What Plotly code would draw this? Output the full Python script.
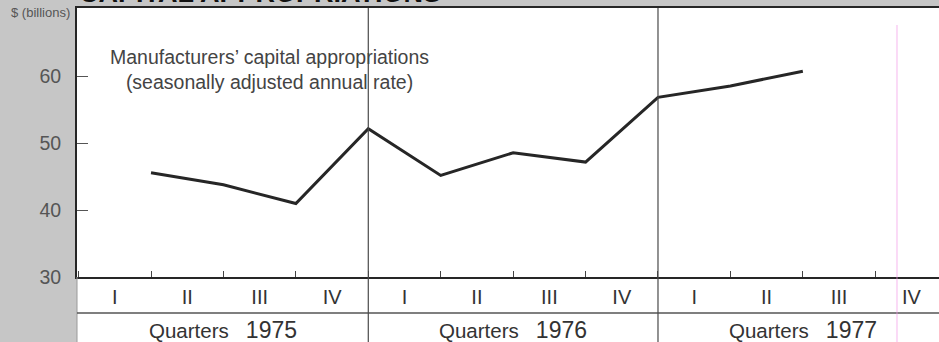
import plotly.graph_objects as go

# Manufacturers' capital appropriations, $ billions (seasonally adjusted annual rate).
# x counts quarters elapsed since the start of 1975; each value sits at its quarter's end.
quarter_pos = [1, 2, 3, 4, 5, 6, 7, 8, 9, 10]
appropriations = [45.6, 43.8, 41.0, 52.2, 45.2, 48.6, 47.2, 56.9, 58.6, 60.8]

years = ["1975", "1976", "1977"]
quarter_names = ["I", "II", "III", "IV"]
y_ticks = [30, 40, 50, 60]

X_RANGE = [-0.022, 11.88]
Y_RANGE = [30, 70.27]

W, H = 939, 342
M_L, M_R, M_T, M_B = 77, 0, 8, 65
PLOT_H = H - M_T - M_B

FONT = "Liberation Sans, Arial, Helvetica, sans-serif"
PAPER_GRAY = "#c6c6c6"
INK = "#262626"


def py(row):
    """Paper-y coordinate of a pixel row counted from the top of the figure."""
    return (H - M_B - row) / PLOT_H


fig = go.Figure()

fig.add_trace(go.Scatter(
    x=quarter_pos, y=appropriations, mode="lines",
    line=dict(color=INK, width=3), hoverinfo="skip", showlegend=False,
))

# white strip holding the quarter / year labels under the plot
fig.add_shape(type="rect", xref="paper", yref="paper", x0=0, x1=1,
              y0=py(H + 5), y1=0, fillcolor="white", line_width=0, layer="below")
# light edge continuing the left border down the label strip
fig.add_shape(type="line", xref="paper", yref="paper", x0=0, x1=0,
              y0=py(H + 5), y1=0, line=dict(color="#9a9a9a", width=1))
# rule between quarter row and year row
fig.add_shape(type="line", xref="paper", yref="paper", x0=0, x1=1,
              y0=py(313), y1=py(313), line=dict(color="#555555", width=1.5))
# year dividers
n_q = len(quarter_names)
for i in range(1, len(years)):
    fig.add_shape(type="line", xref="x", yref="paper", x0=n_q * i, x1=n_q * i,
                  y0=py(H + 5), y1=1, line=dict(color="#4a4a4a", width=1.2))
# faint pink register line from the press
fig.add_shape(type="line", xref="x", yref="paper", x0=11.3, x1=11.3,
              y0=py(H + 5), y1=py(25), line=dict(color="rgba(240,150,230,0.35)", width=2))

# year captions
for i, yr in enumerate(years):
    fig.add_annotation(
        xref="x", yref="paper", x=n_q * i + 2, y=py(330), yanchor="middle",
        text="Quarters\u00a0\u00a0\u00a0<span style='font-size:23px'>" + yr + "</span>",
        showarrow=False, font=dict(family=FONT, size=20.5, color="#333333"),
    )

# series caption
fig.add_annotation(
    xref="x", yref="y", x=2.64, y=61.0, yanchor="middle",
    text="Manufacturers\u2019 capital appropriations<br>(seasonally adjusted annual rate)",
    showarrow=False, align="center",
    font=dict(family=FONT, size=19.5, color="#444444"),
)

# unit label
fig.add_annotation(
    xref="paper", yref="paper", x=-5 / 862, y=py(12), xanchor="right", yanchor="middle",
    text="$ (billions)", showarrow=False,
    font=dict(family=FONT, size=13, color="#555555"),
)

# headline, running off the top edge
fig.add_annotation(
    xref="paper", yref="paper", x=0, y=py(10), xanchor="left", yanchor="bottom",
    text="<b>CAPITAL APPROPRIATIONS</b>", showarrow=False,
    font=dict(family=FONT, size=27, color="#111111"),
)

fig.update_xaxes(
    range=X_RANGE,
    tickvals=[n_q * i + q + 0.5 for i in range(len(years)) for q in range(n_q)],
    ticktext=quarter_names * len(years),
    ticks="", ticklabelstandoff=1,
    tickfont=dict(family=FONT, size=20, color="#333333"),
    minor=dict(tick0=0, dtick=1, ticks="inside", ticklen=6,
               tickcolor="#444444", tickwidth=1, showgrid=False),
    showgrid=False, zeroline=False,
    showline=True, linecolor=INK, linewidth=2, mirror=True,
)
fig.update_yaxes(
    range=Y_RANGE, tickvals=y_ticks,
    ticks="inside", ticklen=11, tickcolor="#555555", tickwidth=1,
    ticklabelstandoff=10,
    tickfont=dict(family=FONT, size=19.5, color="#555555"),
    showgrid=False, zeroline=False,
    showline=True, linecolor=INK, linewidth=2,
)

fig.update_layout(
    width=W, height=H,
    margin=dict(l=M_L, r=M_R, t=M_T, b=M_B, pad=0),
    paper_bgcolor=PAPER_GRAY, plot_bgcolor="white",
    showlegend=False, hovermode=False,
)

fig.write_html("out.html", config={"displayModeBar": False})
